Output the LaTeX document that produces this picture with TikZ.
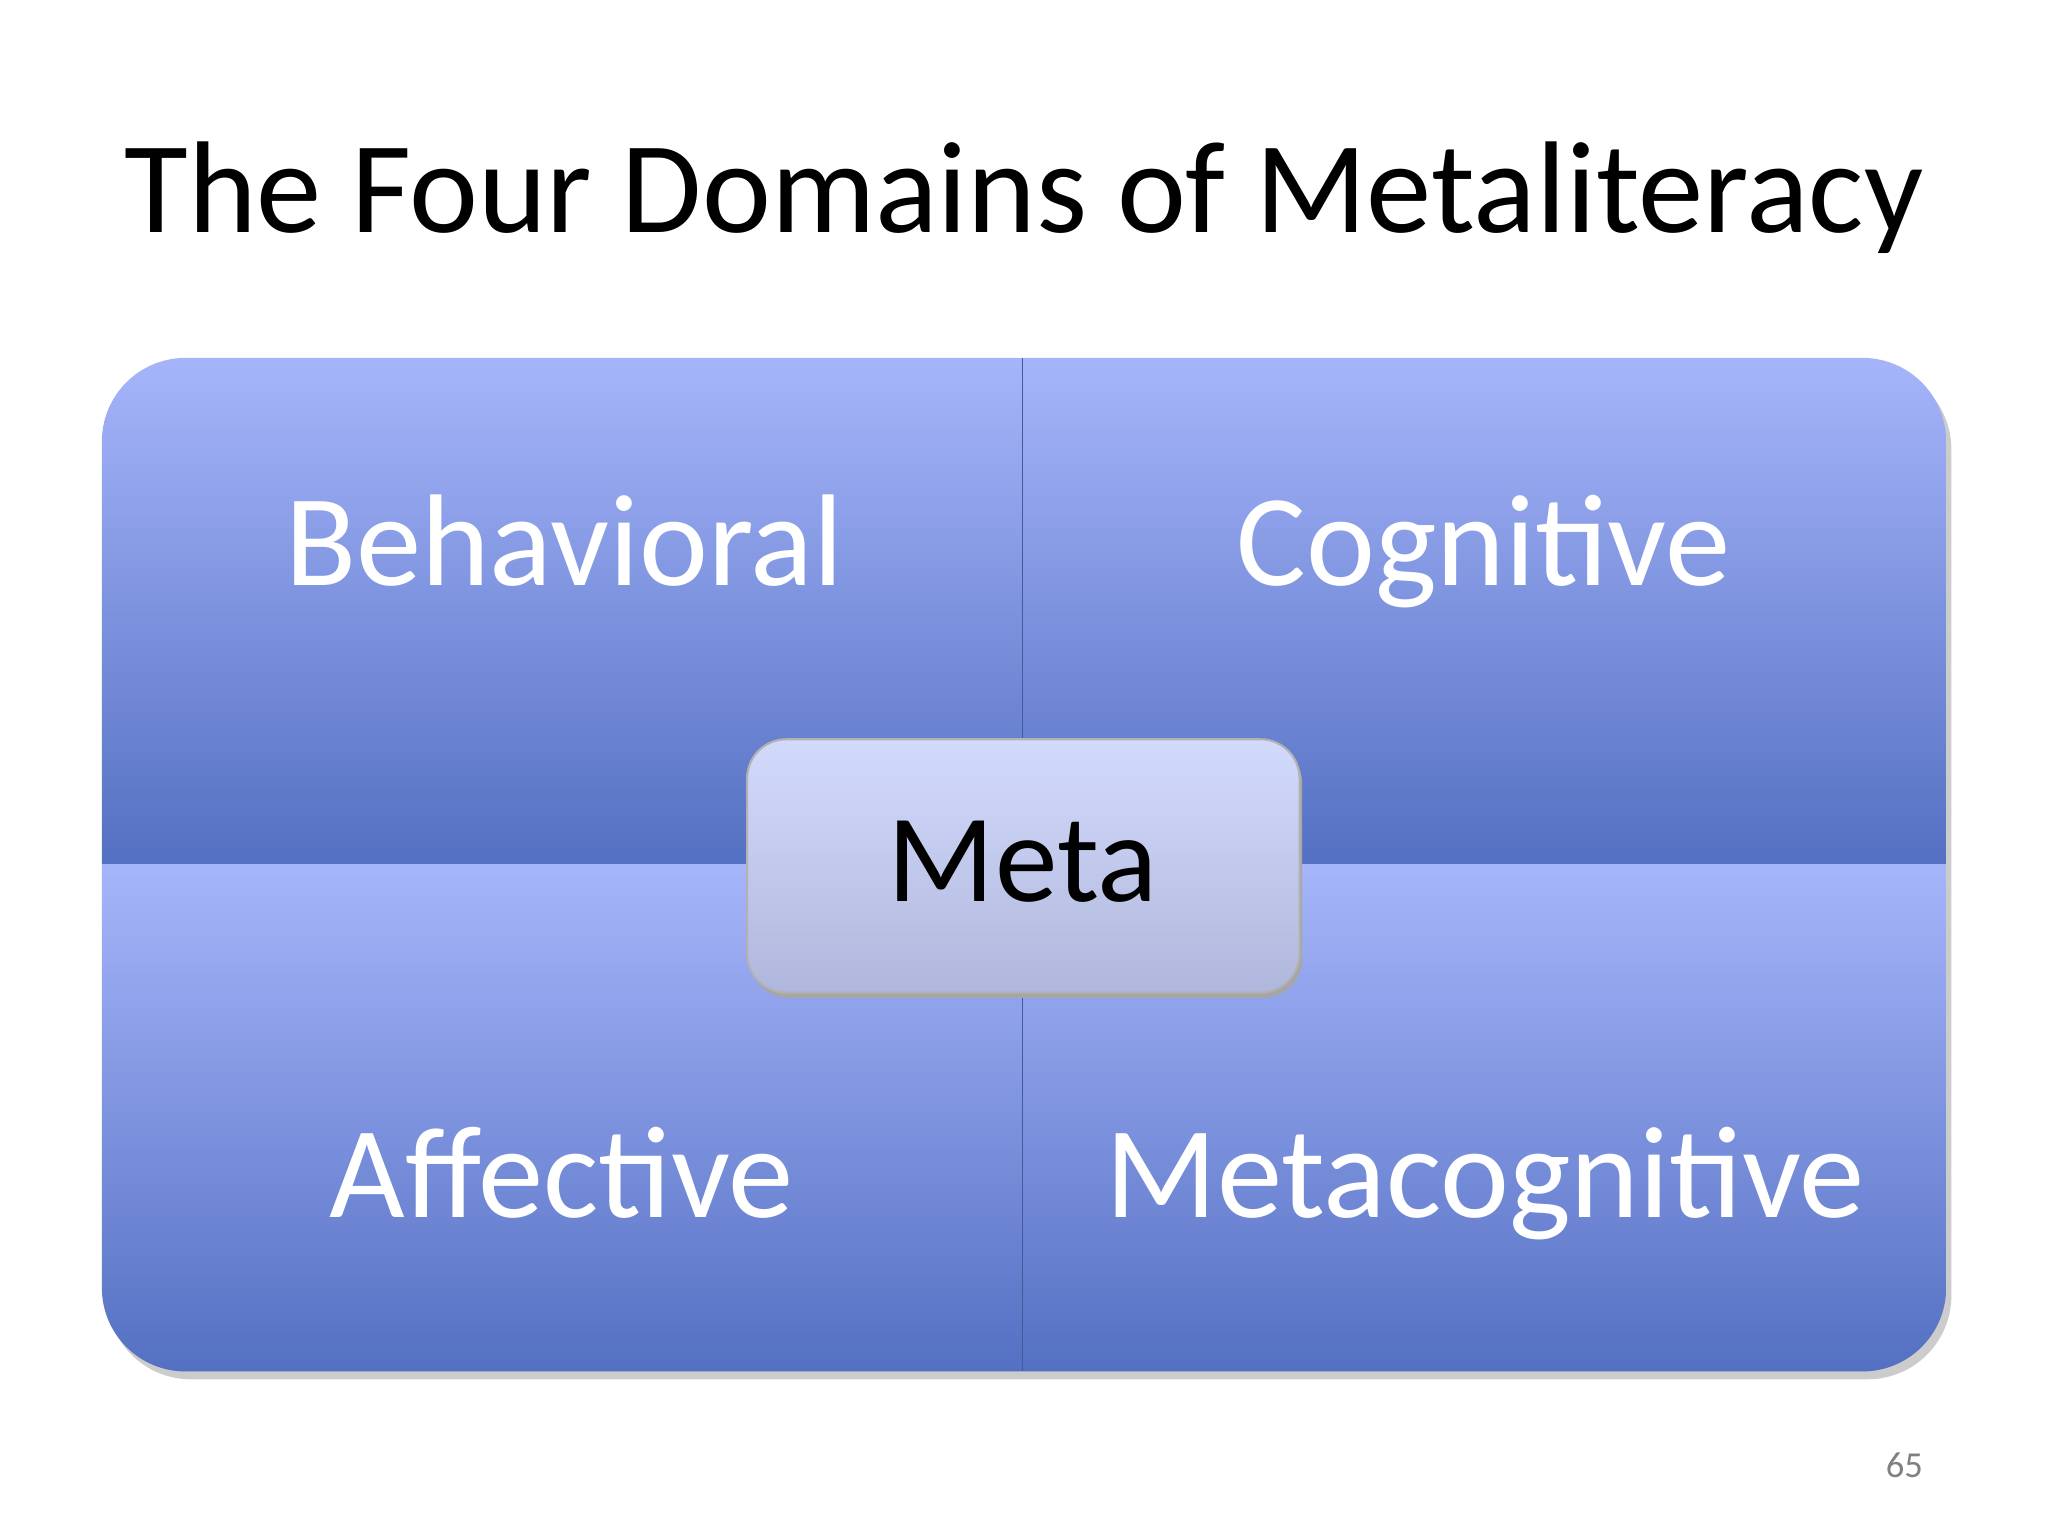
\documentclass[tikz,border=0pt]{standalone}
\usepackage{fontspec}
\setmainfont{Carlito}
\usetikzlibrary{shadows}
\definecolor{qtop}{RGB}{166,181,250}
\definecolor{qbot}{RGB}{84,112,194}
\definecolor{mtop}{RGB}{210,218,252}
\definecolor{mbot}{RGB}{176,183,220}
\definecolor{pg}{RGB}{128,128,128}
\tikzset{quadtext/.style={text=white,font=\fontsize{50}{60}\selectfont,anchor=base}}
\begin{document}
\begin{tikzpicture}[x=0.5pt,y=-0.5pt]
\useasboundingbox (0,0) rectangle (1568,1176);
\fill[white] (0,0) rectangle (1568,1176);
\node[font=\fontsize{50}{60}\selectfont,anchor=base] (title) at (784,178) {The Four Domains of Metaliteracy};
% shadow
\fill[black!20,rounded corners=32pt] (82,280) rectangle (1494,1056);
\begin{scope}
\clip[rounded corners=32pt] (78,274) rectangle (1490,1050);
\shade[top color=qtop,bottom color=qbot] (78,274) rectangle (1490,662);
\shade[top color=qtop,bottom color=qbot] (78,662) rectangle (1490,1050);
\draw[qbot!80!black,line width=0.6pt] (783,274) -- (783,1050);
\end{scope}
\node[quadtext] (beh) at (432,448) {Behavioral};
\node[quadtext] (cog) at (1136,448) {Cognitive};
\node[quadtext] (aff) at (430,932) {Affective};
\node[quadtext] (mc) at (1137,932) {Metacognitive};
\fill[black!35,rounded corners=15pt] (574,570) rectangle (997,764);
\shade[top color=mtop,bottom color=mbot,rounded corners=15pt,draw=black!30,line width=0.8pt] (572,566) rectangle (995,760);
\node[font=\fontsize{48}{58}\selectfont,anchor=base] (meta) at (783,690) {Meta};
\node[text=pg,font=\fontsize{14}{16}\selectfont,anchor=base] (pn) at (1458,1131) {65};
\end{tikzpicture}
\end{document}
